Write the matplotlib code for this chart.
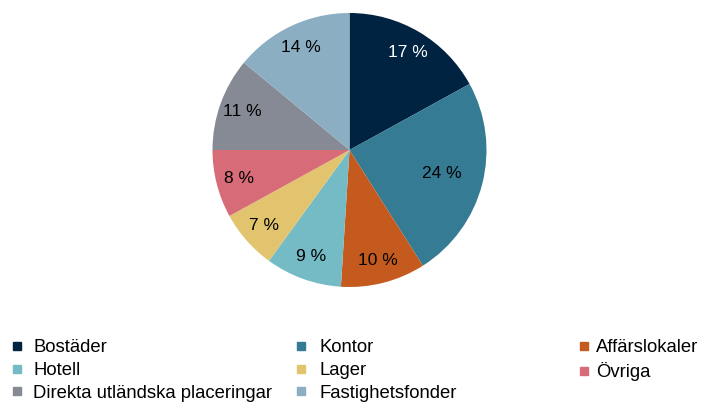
import matplotlib.pyplot as plt
from matplotlib.lines import Line2D

plt.rcParams['font.family'] = ['Liberation Sans', 'DejaVu Sans']

labels = ["Bostäder", "Kontor", "Affärslokaler", "Hotell", "Lager",
          "Övriga", "Direkta utländska placeringar", "Fastighetsfonder"]
values = [17, 24, 10, 9, 7, 8, 11, 14]
colors = ["#002341", "#347b93", "#c55a1f", "#75bbc5", "#e2c46e",
          "#d76b78", "#868a94", "#8baec3"]

W, H = 713, 403
fig = plt.figure(figsize=(W / 100, H / 100), dpi=100)

# pie axes: centre ~ (349,150), radius ~137 px
r = 137
ax = fig.add_axes([(349.5 - r) / W, 1 - (150 + r) / H, 2 * r / W, 2 * r / H])
wedges, texts, autotexts = ax.pie(values, colors=colors, startangle=90,
                                  counterclock=False, radius=1,
                                  autopct=lambda p: "%d %%" % round(p),
                                  pctdistance=0.83,
                                  textprops={'fontsize': 12.5})
ax.set_xlim(-1, 1)
ax.set_ylim(-1, 1)
ax.set_aspect('equal')
autotexts[0].set_color('white')
x, y = autotexts[1].get_position()
autotexts[1].set_position((x * 0.84, y * 0.84))

# legend in three columns
cols = [[0, 3, 6], [1, 4, 7], [2, 5]]
xs = [10, 294, 577]
pads = [0.45, 0.6, 0.25]
for c, x0, pad in zip(cols, xs, pads):
    handles = [Line2D([], [], ls='none', marker='s', markersize=6,
                      color=colors[i]) for i in c]
    fig.legend(handles, [labels[i] for i in c], loc='upper left',
               bbox_to_anchor=(x0 / W, 1 - 339.5 / H), frameon=False,
               fontsize=13.3, handlelength=0.8, handletextpad=pad,
               labelspacing=0.3, borderaxespad=0, borderpad=0)

fig.savefig("out.png", dpi=100)
